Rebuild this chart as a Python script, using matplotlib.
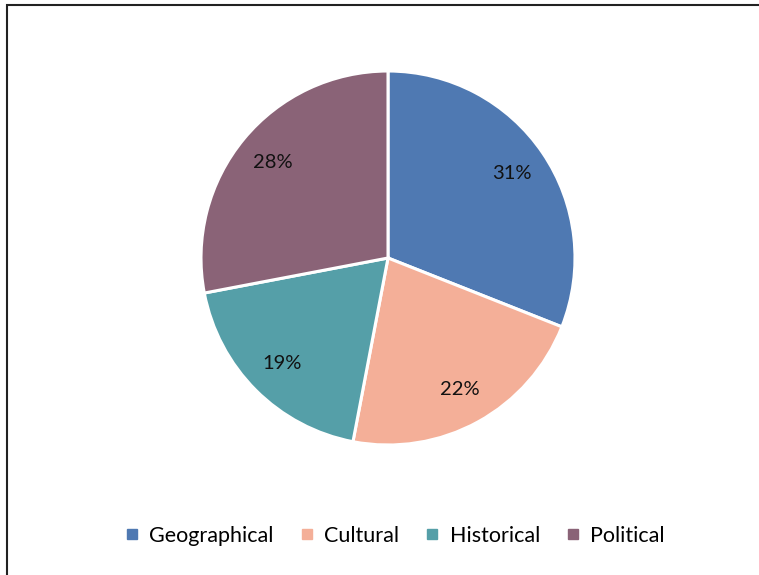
import matplotlib.pyplot as plt
from matplotlib.lines import Line2D
from matplotlib.patches import Rectangle

categories = ['Geographical', 'Cultural', 'Historical', 'Political']
shares = [31, 22, 19, 28]
colors = ['#4f79b2', '#f4af98', '#559fa8', '#8a6377']

plt.rcParams['font.family'] = ['Lato', 'DejaVu Sans']

W, H = 759, 575
fig = plt.figure(figsize=(W / 100, H / 100), dpi=100)

# chart frame (only top and left edges show)
fig.patches.append(Rectangle((7 / W, -0.1), 1.2, (575 - 5) / H + 0.1,
                             transform=fig.transFigure, fill=False,
                             edgecolor='#222222', linewidth=1.5))

# pie centre at (388, 258) px, radius 187 px
cx, cy, r = 388, 258, 187
ax = fig.add_axes([(cx - r) / W, (H - cy - r) / H, 2 * r / W, 2 * r / H])
wedges, texts, autotexts = ax.pie(
    shares, colors=colors, startangle=90, counterclock=False,
    autopct='%1.0f%%', pctdistance=0.8, radius=1,
    wedgeprops=dict(edgecolor='white', linewidth=2.2),
    textprops=dict(fontsize=14.5, color='#111111'))
ax.set_xlim(-1, 1)
ax.set_ylim(-1, 1)
ax.set_aspect('equal')
ax.axis('off')

handles = [Line2D([], [], marker='s', linestyle='none', markersize=7,
                  markerfacecolor=c, markeredgecolor=c) for c in colors]
fig.legend(handles, categories, loc='center', ncol=4, frameon=False,
           bbox_to_anchor=(394 / W, 1 - 536 / H), fontsize=15.5,
           handletextpad=0.4, columnspacing=1.15, handlelength=0.8)

fig.savefig('out.png', dpi=100)
